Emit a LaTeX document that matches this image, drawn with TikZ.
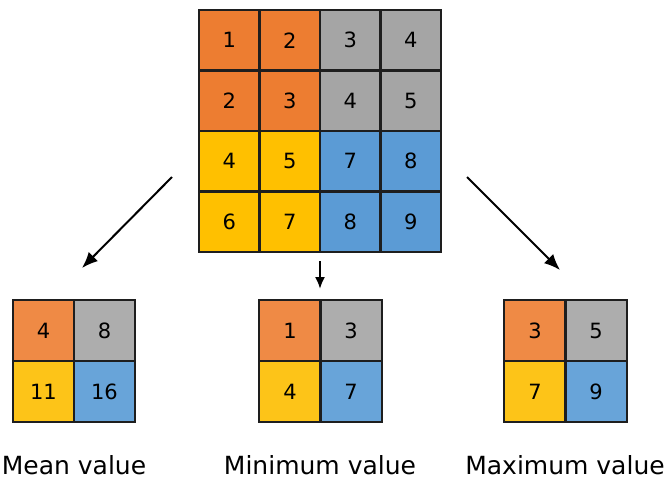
\documentclass[tikz,border=0pt]{standalone}
\usepackage{fontspec}
\setmainfont{DejaVu Sans}
\usetikzlibrary{arrows.meta}

\definecolor{cOrange}{HTML}{ED7D31}
\definecolor{cGray}{HTML}{A5A5A5}
\definecolor{cYellow}{HTML}{FFC000}
\definecolor{cBlue}{HTML}{5B9BD5}
\definecolor{pOrange}{HTML}{EF8A45}
\definecolor{pGray}{HTML}{ADADAD}
\definecolor{pYellow}{HTML}{FDC418}
\definecolor{pBlue}{HTML}{68A4D9}
\definecolor{edge}{HTML}{1E1E1E}

\tikzset{
  cell/.style={draw=none, minimum size=60.5pt, inner sep=0pt,
    font=\fontsize{21}{21}\selectfont, text=black},
  pcell/.style={cell, minimum size=61pt},
  gridline/.style={draw=edge, line width=2pt, line join=miter},
  caption/.style={anchor=base, inner sep=0pt, font=\fontsize{25}{25}\selectfont, text=black},
  flow/.style={line width=2pt, -{Latex[length=16pt,width=13pt]}},
  flowshort/.style={line width=2pt, -{Latex[length=12pt,width=10pt]}}
}

\begin{document}
\begin{tikzpicture}[x=1pt,y=-1pt]
\useasboundingbox (0,0) rectangle (668,479);
\fill[white] (0,0) rectangle (668,479);

% input feature map, 4x4
\foreach \r/\c/\v/\col in {
  0/0/1/cOrange, 0/1/2/cOrange, 0/2/3/cGray, 0/3/4/cGray,
  1/0/2/cOrange, 1/1/3/cOrange, 1/2/4/cGray, 1/3/5/cGray,
  2/0/4/cYellow, 2/1/5/cYellow, 2/2/7/cBlue, 2/3/8/cBlue,
  3/0/6/cYellow, 3/1/7/cYellow, 3/2/8/cBlue, 3/3/9/cBlue}{
  \node[cell, fill=\col] (in-\r-\c) at ({199+60.5*(\c+0.5)},{10+60.5*(\r+0.5)}) {\v};
}
% cell borders on top of all fills
\foreach \r in {0,...,3}{
  \foreach \c in {0,...,3}{
    \draw[gridline] (in-\r-\c.north west) rectangle (in-\r-\c.south east);
  }
}

% pooled outputs, 2x2 each
\foreach \name/\ox/\a/\b/\cc/\d in {
  mean/13/4/8/11/16,
  min/259.5/1/3/4/7,
  max/504.5/3/5/7/9}{
  \node[pcell, fill=pOrange] (\name-0-0) at ({\ox+30.5},330.5) {\a};
  \node[pcell, fill=pGray]   (\name-0-1) at ({\ox+91.5},330.5) {\b};
  \node[pcell, fill=pYellow] (\name-1-0) at ({\ox+30.5},391.5) {\cc};
  \node[pcell, fill=pBlue]   (\name-1-1) at ({\ox+91.5},391.5) {\d};
  \foreach \r in {0,1}{
    \foreach \c in {0,1}{
      \draw[gridline] (\name-\r-\c.north west) rectangle (\name-\r-\c.south east);
    }
  }
}

% captions
\node[caption] (cap-mean) at (74,474) {Mean value};
\node[caption] (cap-min) at (320,474) {Minimum value};
\node[caption] (cap-max) at (565,474) {Maximum value};

% arrows
\coordinate (a-mean-s) at (172,177);
\coordinate (a-mean-e) at (82,268);
\coordinate (a-min-s) at (320,261);
\coordinate (a-min-e) at (320,289);
\coordinate (a-max-s) at (467,177);
\coordinate (a-max-e) at (560,270);
\draw[flow] (a-mean-s) -- (a-mean-e);
\draw[flowshort] (a-min-s) -- (a-min-e);
\draw[flow] (a-max-s) -- (a-max-e);
\end{tikzpicture}
\end{document}
